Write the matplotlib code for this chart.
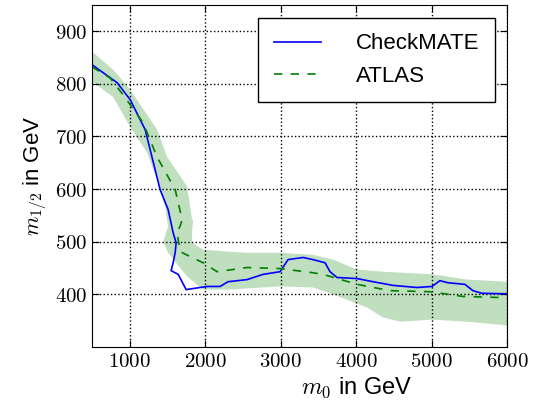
import numpy as np
import matplotlib
matplotlib.use("Agg")
import matplotlib.pyplot as plt
from matplotlib.ticker import FuncFormatter

plt.rcParams["mathtext.fontset"] = "cm"
plt.rcParams["font.family"] = ["Liberation Sans", "DejaVu Sans"]

# ---- CheckMATE exclusion line ----
cm_m0 = [500, 831, 1003, 1202, 1400, 1507, 1573, 1613, 1600, 1573, 1546, 1640, 1745,
         2023, 2195, 2300, 2553, 2765, 2990, 3096, 3295, 3427, 3586, 3652, 3745,
         4010, 4222, 4487, 4805, 5003, 5109, 5215, 5440, 5546, 5666, 6000]
cm_m12 = [836, 802, 770, 713, 599, 561, 517, 498, 479, 460, 445, 438, 409,
          415, 415, 424, 428, 438, 443, 466, 470, 466, 460, 443, 432,
          430, 424, 417, 413, 415, 426, 422, 419, 407, 402, 401]

# ---- ATLAS expected line ----
at_m0 = [500, 738, 910, 1175, 1360, 1600, 1692, 1666, 1626, 1666, 1970, 2156,
         2553, 2990, 3427, 3560, 4010, 4447, 4977, 5414, 5904, 6000]
at_m12 = [832, 811, 779, 726, 661, 599, 542, 530, 517, 481, 460, 443,
          451, 449, 441, 438, 419, 407, 405, 396, 394, 393]

# ---- ATLAS +-1 sigma band ----
up_m0 = [500, 778, 1003, 1360, 1493, 1758, 1824, 1838, 1824, 1824, 1970, 2328,
         2553, 2990, 3427, 3692, 4010, 4354, 5016, 5467, 6000]
up_m12 = [861, 827, 789, 713, 661, 605, 542, 542, 517, 498, 485, 481,
          479, 479, 475, 466, 447, 443, 438, 428, 424]
lo_m0 = [500, 778, 1003, 1228, 1360, 1467, 1507, 1440, 1507, 1758, 1970, 2288,
         2990, 3427, 3692, 4142, 4354, 4580, 5016, 5467, 6000]
lo_m12 = [804, 775, 718, 669, 618, 567, 529, 500, 479, 434, 409, 409,
          415, 413, 400, 375, 356, 348, 352, 348, 341]

fig = plt.figure(figsize=(5.39, 4.03), dpi=100)
ax = fig.add_axes([0.171, 0.139, 0.770, 0.849])

band_x = up_m0 + lo_m0[::-1]
band_y = up_m12 + lo_m12[::-1]
ax.fill(band_x, band_y, color="g", alpha=0.25, lw=0)

ax.plot(cm_m0, cm_m12, "b-", lw=1.2, label="CheckMATE")
ax.plot(at_m0, at_m12, "g--", lw=1.2, dashes=(5, 5), label="ATLAS")

ax.set_xlim(500, 6000)
ax.set_ylim(300, 950)
ax.set_xticks([1000, 2000, 3000, 4000, 5000, 6000])
ax.set_yticks([400, 500, 600, 700, 800, 900])
fmt = FuncFormatter(lambda v, p: "$%d$" % v)
ax.xaxis.set_major_formatter(fmt)
ax.yaxis.set_major_formatter(fmt)
ax.tick_params(direction="in", top=True, right=True, labelsize=15, length=5)
ax.grid(True, color="k", linestyle=":", lw=1)

ax.set_xlabel(r"$m_0$ in GeV", fontsize=17)
ax.xaxis.set_label_coords(0.636, -0.085)
ax.set_ylabel(r"$m_{1/2}$ in GeV", fontsize=16, labelpad=4)

leg = ax.legend(loc="upper right", fontsize=16, fancybox=False, framealpha=1,
                edgecolor="k", bbox_to_anchor=(0.971, 0.962), borderaxespad=0,
                handlelength=2.1, handletextpad=1.6, borderpad=0.7,
                labelspacing=0.5)
leg.get_frame().set_linewidth(1)

fig.savefig("out.png", dpi=100)
